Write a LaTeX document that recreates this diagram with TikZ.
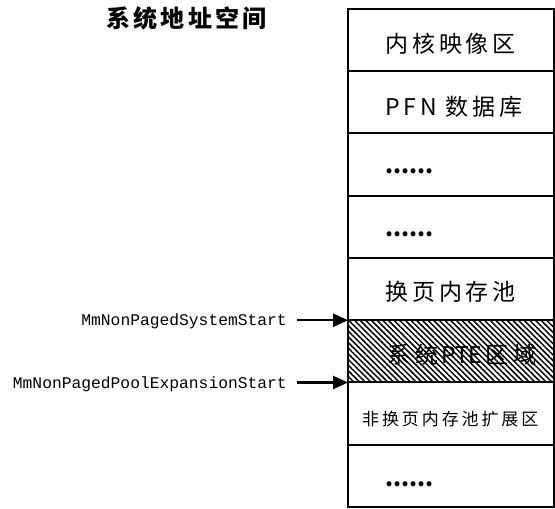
\documentclass[tikz,border=0pt]{standalone}
\usepackage{fontspec}
\newfontfamily\cjk{Noto Sans CJK SC}
\newfontfamily\cjkls[LetterSpace=17]{Noto Sans CJK SC}
\newfontfamily\cjkttl[LetterSpace=14]{Noto Sans CJK SC}
\setmonofont{Liberation Mono}
\usetikzlibrary{arrows.meta,patterns.meta}
\tikzset{
  rowbox/.style={draw, line width=2bp, minimum width=206bp, minimum height=62.25bp, inner sep=0pt, outer sep=0pt},
  hatchbox/.style={rowbox, pattern={Lines[angle=-45,distance=4bp,line width=1.5bp]}},
  lbl/.style={anchor=base west, inner sep=0pt, font=\cjkls\fontsize{23bp}{27bp}\selectfont},
  dots/.style={anchor=base west, inner sep=0pt, font=\cjk\bfseries\fontsize{23bp}{27bp}\selectfont},
  addr/.style={anchor=base east, inner sep=0pt, font=\ttfamily\fontsize{16.3bp}{18bp}\selectfont},
  arr/.style={line width=2.5bp, -{Triangle[length=15bp,width=13bp]}},
}
\begin{document}
\begin{tikzpicture}[x=1bp,y=-1bp]
\useasboundingbox (0,0) rectangle (555,509);
\node[rowbox] (r1) at (451,40.12) {};
\node[rowbox] (r2) at (451,102.37) {};
\node[rowbox] (r3) at (451,164.62) {};
\node[rowbox] (r4) at (451,226.87) {};
\node[rowbox] (r5) at (451,289.12) {};
\node[hatchbox] (r6) at (451,351.37) {};
\node[rowbox] (r7) at (451,413.62) {};
\node[rowbox] (r8) at (451,475.87) {};
\node[anchor=base west, inner sep=0pt, font=\cjkttl\bfseries\fontsize{24bp}{28bp}\selectfont] (title) at (106,28) {系统地址空间};
\node[lbl] (t1) at (385,53) {内核映像区};
\node[lbl] (t2) at (385,116) {PFN 数据库};
\node[dots] (t3) at (385,174) {......};
\node[dots] (t4) at (385,236) {......};
\node[lbl] (t5) at (385,300) {换页内存池};
\node[lbl, font=\cjk\fontsize{23bp}{27bp}\selectfont] (t6) at (387,363) {系\hspace{5bp}统\hspace{3bp}PTE\hspace{3bp}区\hspace{5bp}域};
\node[lbl, font=\cjkls\fontsize{17bp}{20bp}\selectfont] (t7) at (362,425) {非换页内存池扩展区};
\node[dots] (t8) at (385,486) {......};
\node[addr] (l1) at (287,325) {MmNonPagedSystemStart};
\node[addr] (l2) at (287,388) {MmNonPagedPoolExpansionStart};
\coordinate (a1) at ([xshift=-51bp]r6.north west);
\coordinate (a2) at ([xshift=-51bp]r7.north west);
\draw[arr] (a1) -- (r6.north west);
\draw[arr] (a2) -- (r7.north west);
\end{tikzpicture}
\end{document}
